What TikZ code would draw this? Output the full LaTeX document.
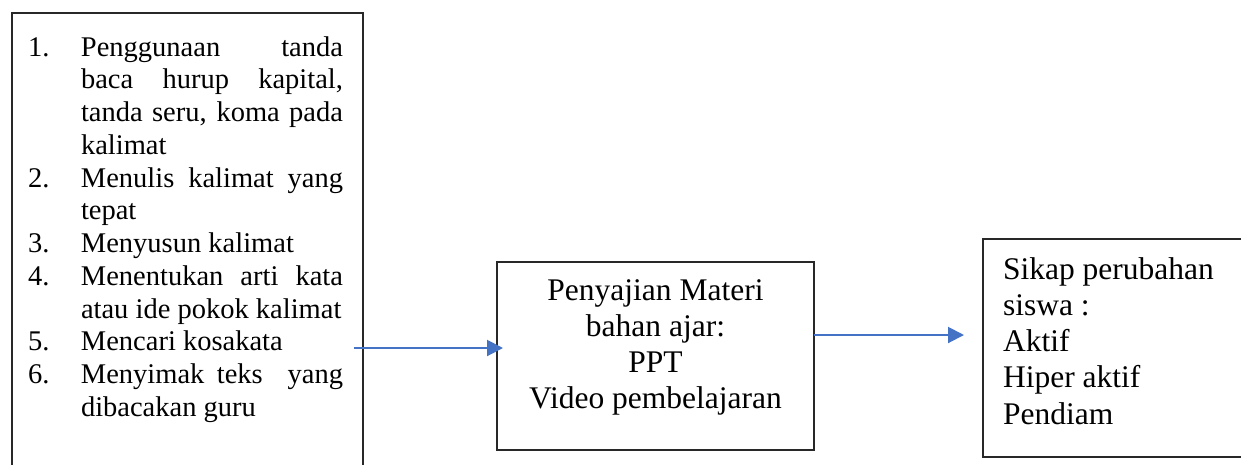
\documentclass[tikz,border=0pt]{standalone}
\usepackage{fontspec}
\setmainfont{Liberation Serif}
\usetikzlibrary{arrows.meta}

\definecolor{flowblue}{RGB}{68,114,196}
\definecolor{framegray}{RGB}{40,40,40}

\tikzset{
  frame/.style={draw=framegray, line width=1.4pt, rectangle, inner sep=0pt,
                outer sep=0pt, anchor=north west},
  txt/.style={inner sep=0pt, outer sep=0pt, anchor=base west},
  flow/.style={draw=flowblue, line width=2pt,
               -{Triangle[length=16pt,width=16pt]}},
}

% numbered item with a hanging label
\newcommand{\listentry}[2]{%
  \noindent\hangindent=53pt\hangafter=1
  \makebox[53pt][l]{#1}#2\par}

\begin{document}
\begin{tikzpicture}[x=1pt,y=-1pt]
\useasboundingbox (0,0) rectangle (1241,464);
\begin{scope}
\clip (0,0) rectangle (1241,464);

% boxes
\node[frame, minimum width=351pt, minimum height=480pt] (src) at (12,13) {};
\node[frame, minimum width=317pt, minimum height=188pt] (mid) at (497,262) {};
\node[frame, minimum width=300pt, minimum height=218pt] (res) at (983,239) {};

% list of language topics
\node[txt] (srctext) at (28,56) {%
  \vtop{\hsize=315pt
    \fontsize{28.5}{32.75}\selectfont
    \parindent=0pt \hbadness=10000 \hfuzz=2pt
    \listentry{1.}{Penggunaan tanda\linebreak baca hurup kapital,\linebreak tanda seru, koma pada\linebreak kalimat}
    \listentry{2.}{Menulis kalimat yang\linebreak tepat}
    \listentry{3.}{Menyusun kalimat}
    \listentry{4.}{Menentukan arti kata\linebreak atau ide pokok kalimat}
    \listentry{5.}{Mencari kosakata}
    \listentry{6.}{Menyimak teks\ \ yang\linebreak dibacakan guru}
  }};

% teaching material
\node[txt, anchor=base] (midtext) at (655.5,300) {%
  \fontsize{31.5}{36.2}\selectfont
  \begin{tabular}[t]{@{}c@{}}
    Penyajian Materi\\
    bahan ajar:\\
    PPT\\
    Video pembelajaran
  \end{tabular}};

% observed student attitudes
\node[txt] (restext) at (1003,279) {%
  \fontsize{31.5}{36.25}\selectfont
  \begin{tabular}[t]{@{}l@{}}
    Sikap perubahan\\
    siswa :\\
    Aktif\\
    Hiper aktif\\
    Pendiam
  \end{tabular}};

% connectors
\coordinate (a1s) at (354,348);
\coordinate (a2s) at (814,335);
\draw[flow, shorten >=-6pt] (a1s) -- (a1s -| mid.west);
\draw[flow, shorten >=19pt] (mid.east |- a2s) -- (a2s -| res.west);
\end{scope}
\end{tikzpicture}
\end{document}
